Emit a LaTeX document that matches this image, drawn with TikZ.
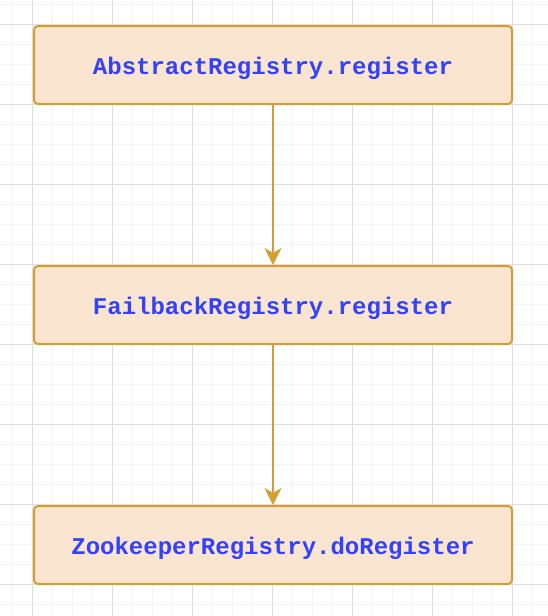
\documentclass[tikz,border=0pt]{standalone}
\usepackage{fontspec}
\newfontfamily\codefont{Liberation Mono}
\usetikzlibrary{positioning,arrows.meta}
\definecolor{boxfill}{RGB}{250,230,208}
\definecolor{boxline}{RGB}{214,158,50}
\definecolor{codeblue}{RGB}{51,64,255}
\definecolor{minorgrid}{RGB}{244,244,244}
\definecolor{majorgrid}{RGB}{222,222,222}

\begin{document}
\begin{tikzpicture}[x=1pt,y=-1pt]
\tikzset{
% Boxes holding the method calls
call box/.style={rectangle,rounded corners=4pt,draw=boxline,line width=2pt,fill=boxfill,
  minimum width=478pt,minimum height=78pt,text=codeblue,
  font=\codefont\bfseries\fontsize{24}{28}\selectfont,text height=18pt,text depth=0pt},
call arrow/.style={draw=boxline,line width=2pt,-{Stealth[length=17pt,width=17pt,inset=5pt]}}
}
\useasboundingbox (0,0) rectangle (548,616);

% Background grid
\foreach \x in {0,...,26} \draw[minorgrid,line width=1pt] (12.7+20*\x,0) -- (12.7+20*\x,616);
\foreach \y in {0,...,30} \draw[minorgrid,line width=1pt] (0,4+20*\y) -- (548,4+20*\y);
\foreach \x in {0,...,6} \draw[majorgrid,line width=1pt] (32.7+80*\x,0) -- (32.7+80*\x,616);
\foreach \y in {0,...,7} \draw[majorgrid,line width=1pt] (0,24+80*\y) -- (548,24+80*\y);

% The call chain
\node(abstract)[call box] at (273,65) {AbstractRegistry.register};
\node(failback)[call box,below=160pt of abstract] {FailbackRegistry.register};
\node(zookeeper)[call box,below=160pt of failback] {ZookeeperRegistry.doRegister};

\draw[call arrow] (abstract) -- (failback);
\draw[call arrow] (failback) -- (zookeeper);
\end{tikzpicture}
\end{document}
